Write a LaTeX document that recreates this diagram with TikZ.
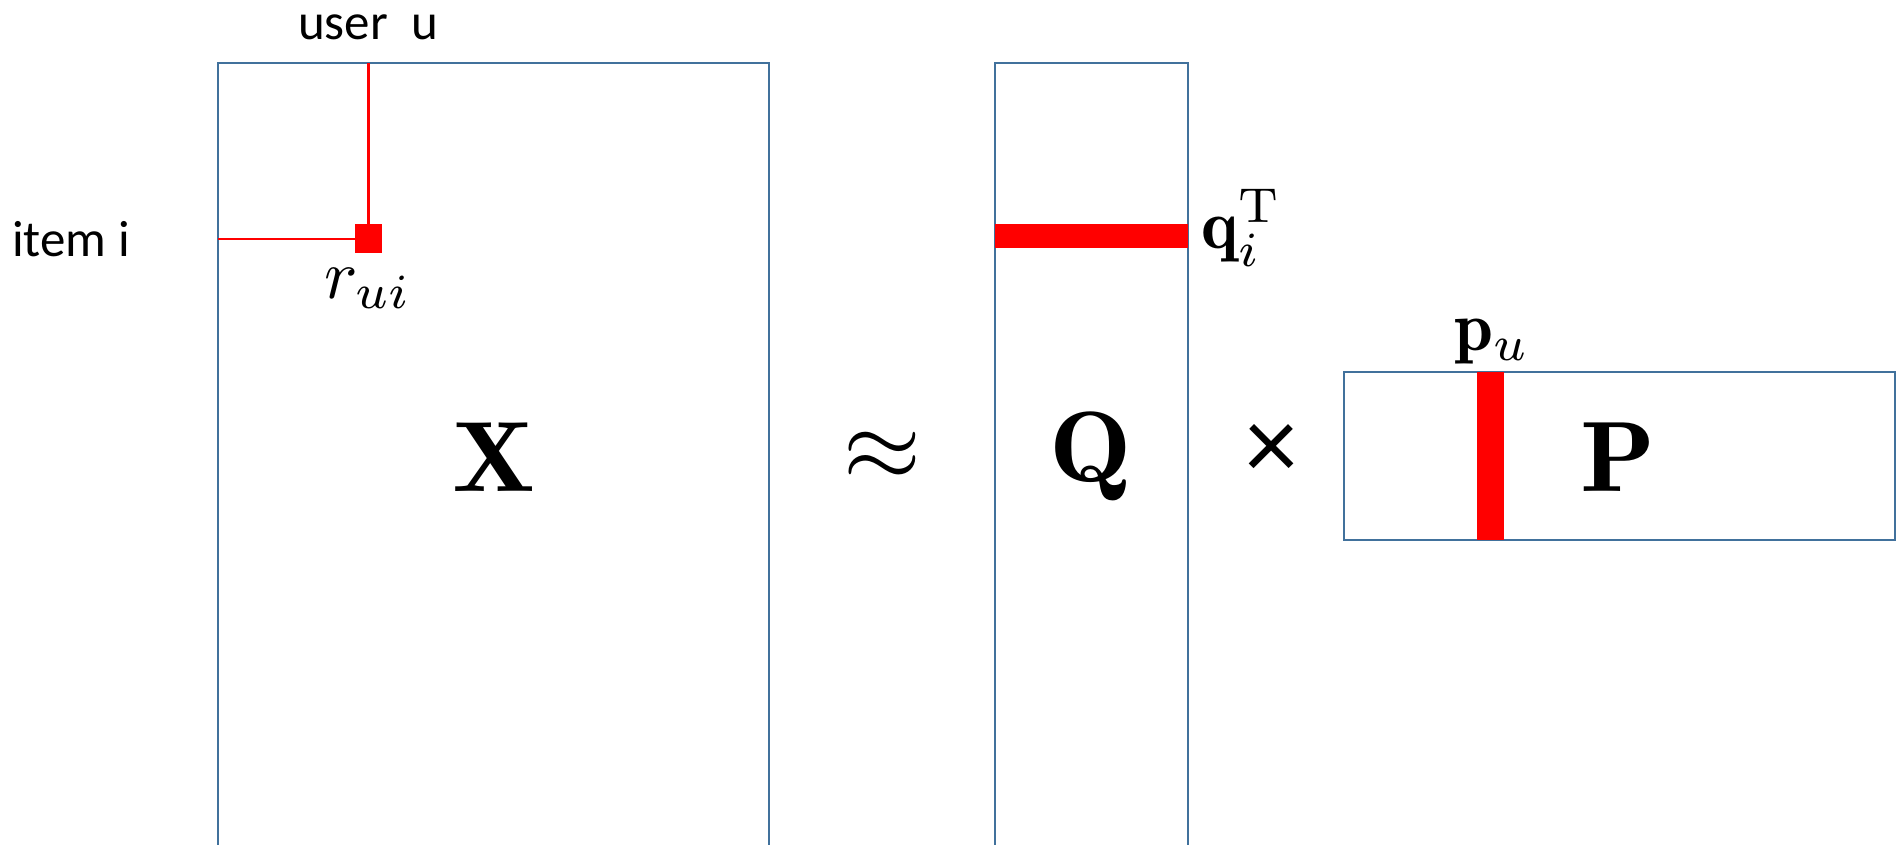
\documentclass[tikz,border=0pt]{standalone}
\usepackage{graphicx}
\usepackage{fontspec}
\newfontfamily\calibri{Carlito}
\usetikzlibrary{positioning}

\definecolor{matblue}{RGB}{65,113,156}
\newcommand{\sclab}[1]{\scalebox{7}{$#1$}}
\newcommand{\scbig}[1]{\scalebox{11}[10]{$#1$}}

\begin{document}
\begin{tikzpicture}[
  x=1pt, y=-1pt,
  mat/.style={rectangle, draw=matblue, line width=2.6pt, inner sep=0pt, outer sep=0pt, anchor=north west},
  hit/.style={rectangle, fill=red, inner sep=0pt, outer sep=0pt},
  txt/.style={font=\fontsize{51}{60}\selectfont\calibri, inner sep=0pt},
  sym/.style={inner sep=0pt},
  link/.style={draw=red, line width=2.4pt}
]
\useasboundingbox (0,0) rectangle (1903,844);

% the three matrices (X and Q run past the bottom edge)
\node[mat, minimum width=551pt, minimum height=850pt] (matX) at (218,63) {};
\node[mat, minimum width=193pt, minimum height=850pt] (matQ) at (995,63) {};
\node[mat, minimum width=551pt, minimum height=168pt] (matP) at (1344,372) {};

% highlighted entry, row and column
\node[hit, minimum width=27pt, minimum height=29pt] (rui) at (368.5,238.5) {};
\node[hit, minimum width=193pt, minimum height=24pt] (qrow) at (1091.5,236) {};
\node[hit, minimum width=27pt, minimum height=168pt] (pcol) at (1490.5,456) {};

\draw[link] (rui.north) -- (rui.north |- matX.north);
\draw[link, line width=2pt] (rui.west) -- (rui.west -| matX.west);

% labels
\node[txt, anchor=base] (user) at (368,39) {user\ \ u};
\node[txt, anchor=base west] (item) at (12,256) {item i};
\node[sym, anchor=base] (rlab) at (368,298) {\sclab{r_{ui}}};
\node[sym, anchor=base west] (qlab) at (1201,248) {\sclab{\mathbf{q}_i^{\mathrm{T}}}};
\node[sym, anchor=base] (plab) at (1492,350) {\sclab{\mathbf{p}_u}};
\node[sym, anchor=base] (xname) at (494,491) {\scbig{\mathbf{X}}};
\node[sym, anchor=base] (approx) at (882,480) {\scalebox{10}{$\approx$}};
\node[sym, anchor=base] (qname) at (1091,481) {\scbig{\mathbf{Q}}};
\node[txt, font=\fontsize{105}{120}\selectfont\calibri, anchor=base] (times) at (1272,479) {×};
\node[sym, anchor=base] (pname) at (1618,491) {\scbig{\mathbf{P}}};
\end{tikzpicture}
\end{document}
